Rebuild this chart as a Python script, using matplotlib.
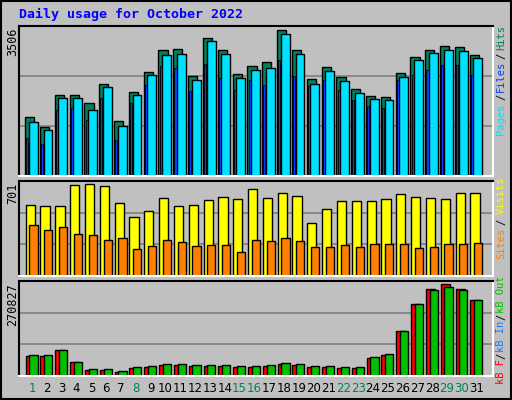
import matplotlib
matplotlib.use("Agg")
from matplotlib import pyplot as plt
import numpy as np

days = list(range(1, 32))
green_days = [1, 8, 15, 16, 22, 23, 29, 30]

# values
hits = [1413, 1173, 1941, 1941, 1749, 2206, 1317, 2013, 2494, 3025, 3050, 2398, 3314, 3025,
        2446, 2638, 2734, 3506, 3025, 2326, 2614, 2374, 2086, 1917, 1893, 2470, 2854, 3025,
        3122, 3098, 2902]
files = [1293, 1105, 1869, 1869, 1581, 2134, 1197, 1941, 2422, 2902, 2926, 2302, 3242, 2926,
         2350, 2542, 2590, 3410, 2926, 2206, 2518, 2278, 1990, 1845, 1821, 2374, 2782, 2950,
         3026, 3002, 2830]
pages = [917, 773, 1581, 1629, 1341, 1869, 869, 1749, 2182, 2638, 2590, 2038, 2686, 2350,
         2062, 2302, 2182, 2782, 2398, 2158, 2302, 2062, 1821, 1677, 1629, 2302, 2422, 2542,
         2662, 2662, 2422]
visits = [541, 533, 533, 693, 701, 686, 556, 450, 495, 594, 533, 541, 579, 602, 587, 663,
          594, 632, 610, 404, 511, 572, 572, 572, 587, 625, 602, 594, 587, 632, 632]
sites = [389, 351, 373, 320, 312, 274, 290, 206, 229, 274, 259, 229, 236, 236, 183, 274,
         267, 290, 267, 221, 221, 236, 221, 244, 244, 244, 213, 221, 244, 244, 251]
kb_out = [62700, 62700, 77000, 40000, 20000, 20000, 14300, 25600, 28500, 34200, 34200,
          31300, 31300, 31300, 28500, 28500, 31300, 37000, 34200, 28500, 28500, 25600, 25600,
          57000, 65500, 131000, 211000, 254000, 262000, 254000, 225000]
kb_f = [60000, 60000, 77000, 40000, 18000, 18000, 13000, 22800, 25600, 31300, 31300,
        28500, 28500, 28500, 25600, 25600, 28500, 34200, 31300, 25600, 25600, 22800, 22800,
        54000, 62700, 131000, 211000, 257000, 270827, 257000, 225000]

bg = "#C0C0C0"
fig = plt.figure(figsize=(5.12, 4.0), dpi=100, facecolor=bg)
mono = "DejaVu Sans Mono"
x = np.array(days)


def panel(top, bottom, ymax):
    ax = fig.add_axes([19 / 512, 1 - bottom / 400, 474 / 512, (bottom - top) / 400])
    ax.set_facecolor(bg)
    ax.set_xlim(0.12, 32.1)
    ax.set_ylim(0, ymax)
    ax.set_xticks([])
    ax.set_yticks([])
    for f in (1 / 3, 2 / 3):
        ax.axhline(ymax * f, color="#808080", lw=1.2, zorder=0)
    ax.spines["top"].set_color("black")
    ax.spines["left"].set_color("black")
    ax.spines["bottom"].set_color("white")
    ax.spines["right"].set_color("white")
    for s in ax.spines.values():
        s.set_linewidth(1.5)
    return ax


ax1 = panel(26, 176, 3506 * 150 / 146)
ax1.bar(x - 0.16, hits, 0.62, color="#00805C", edgecolor="black", lw=1)
ax1.bar(x + 0.08, files, 0.6, color="#00E0FF", edgecolor="black", lw=1)
ax1.bar(x - 0.32, pages, 0.14, color="#0040FF", edgecolor="black", lw=0.6)

ax2 = panel(181, 276, 701 * 95 / 92)
ax2.bar(x - 0.12, visits, 0.62, color="#FFFF00", edgecolor="black", lw=1)
ax2.bar(x + 0.1, sites, 0.55, color="#FF8000", edgecolor="black", lw=1)

ax3 = panel(281, 376, 270827 * 95 / 92)
ax3.bar(x - 0.12, kb_f, 0.62, color="#FF0000", edgecolor="black", lw=1)
ax3.bar(x + 0.1, kb_out, 0.55, color="#00C000", edgecolor="black", lw=1)

for d in days:
    c = "#00805C" if d in green_days else "black"
    fig.text((19 + (d - 0.12) * 474 / 31.98) / 512, 1 - 389 / 400, str(d), color=c,
             fontsize=8.5, family="DejaVu Sans", ha="center", va="center")

fig.text(19 / 512, 1 - 14 / 400, "Daily usage for October 2022", color="#0000FF",
         fontsize=9.5, family=mono, fontweight="bold", va="center")

for yy, lab in [(28, "3506"), (183, "701"), (283, "270827")]:
    fig.text(13 / 512, 1 - yy / 400, lab, rotation=90, fontsize=8.5, family=mono,
             ha="center", va="top")

right = [(38, "Hits", "#00805C"), (56, "/", "black"), (76, "Files", "#0040FF"),
         (97, "/", "black"), (119, "Pages", "#00E0FF"),
         (195, "Visits", "#FFFF00"), (222, "/", "black"), (243, "Sites", "#FF8000"),
         (294, "kB Out", "#00C000"), (317, "/", "black"), (336, "kB In", "#0080FF"),
         (356, "/", "black"), (372, "kB F", "#FF0000")]
for yy, lab, c in right:
    fig.text(501 / 512, 1 - yy / 400, lab, rotation=90, fontsize=7.5, family=mono,
             color=c, ha="center", va="center")

fig.patches.append(plt.Rectangle((0.002, 0.002), 0.996, 0.996, transform=fig.transFigure,
                                 fill=False, edgecolor="black", lw=1.5))
fig.savefig("out.png", dpi=100, facecolor=bg)
